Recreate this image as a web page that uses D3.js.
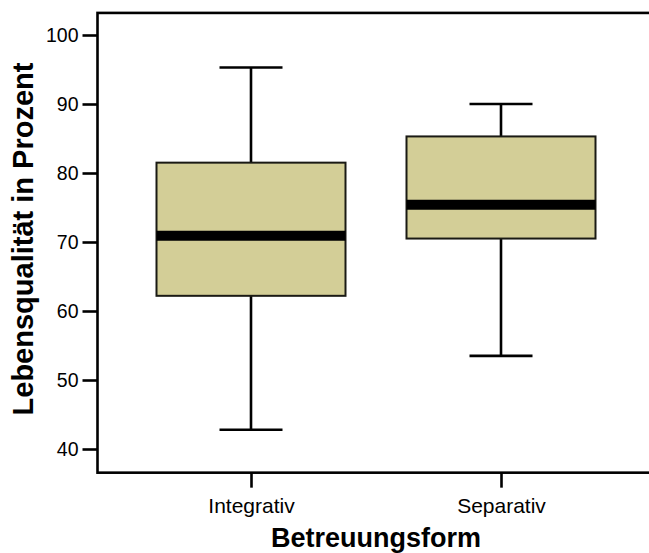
<!DOCTYPE html>
<html>
<head>
<meta charset="utf-8">
<script src="https://cdn.jsdelivr.net/npm/d3@7"></script>
<style>
  body { margin: 0; background: #fff; }
  svg { display: block; }
  text { font-family: Arial, "Liberation Sans", sans-serif; fill: #000; }
</style>
</head>
<body>
<div id="chart"></div>
<script>
var width = 649;
var height = 553;

// data
var groups = ["Integrativ", "Separativ"];
var whiskerLow = [42.8, 53.5];
var q1 = [62.2, 70.5];
var median = [70.9, 75.4];
var q3 = [81.5, 85.3];
var whiskerHigh = [95.3, 90.0];
var yTicks = [40, 50, 60, 70, 80, 90, 100];

var boxes = groups.map(function(g, i) {
  return { name: g, lo: whiskerLow[i], q1: q1[i], med: median[i], q3: q3[i], hi: whiskerHigh[i] };
});

var left = 97.5, right = 654.5;

var y = d3.scaleLinear()
  .domain([40, 100])
  .range([449, 35]);

var yMin = 36.57, yMax = 103.2;

var x = d3.scalePoint()
  .domain(groups)
  .range([left, right])
  .padding(0.614);

var boxW = x.step() * 0.756;
var capW = boxW / 3;

var svg = d3.select("#chart")
  .append("svg")
    .attr("width", width)
    .attr("height", height);

// frame
svg.append("rect")
  .attr("x", left)
  .attr("y", y(yMax))
  .attr("width", right - left)
  .attr("height", y(yMin) - y(yMax))
  .attr("fill", "none")
  .attr("stroke", "#000")
  .attr("stroke-width", 2.6);

// y axis
var yAxis = svg.append("g")
  .attr("transform", "translate(" + left + ",0)")
  .call(d3.axisLeft(y).tickValues(yTicks).tickSize(15).tickPadding(4).tickFormat(d3.format("d")));
yAxis.select(".domain").remove();
yAxis.selectAll(".tick line").attr("stroke", "#000").attr("stroke-width", 2.6);
yAxis.selectAll(".tick text")
  .style("font-size", "19.5px")
  .attr("font-family", null);

// x axis
var xAxis = svg.append("g")
  .attr("transform", "translate(0," + y(yMin) + ")")
  .call(d3.axisBottom(x).tickSize(15).tickPadding(10));
xAxis.select(".domain").remove();
xAxis.selectAll(".tick line").attr("stroke", "#000").attr("stroke-width", 2.6);
xAxis.selectAll(".tick text")
  .style("font-size", "21px")
  .attr("font-family", null);

// boxes
var g = svg.append("g")
  .selectAll("g")
  .data(boxes)
  .enter()
  .append("g");

// whiskers
g.append("line")
  .attr("x1", function(d) { return x(d.name); })
  .attr("x2", function(d) { return x(d.name); })
  .attr("y1", function(d) { return y(d.hi); })
  .attr("y2", function(d) { return y(d.lo); })
  .attr("stroke", "#000")
  .attr("stroke-width", 2.6);

g.selectAll(".cap")
  .data(function(d) { return [{ name: d.name, v: d.hi }, { name: d.name, v: d.lo }]; })
  .enter()
  .append("line")
    .attr("class", "cap")
    .attr("x1", function(d) { return x(d.name) - capW / 2; })
    .attr("x2", function(d) { return x(d.name) + capW / 2; })
    .attr("y1", function(d) { return y(d.v); })
    .attr("y2", function(d) { return y(d.v); })
    .attr("stroke", "#000")
    .attr("stroke-width", 2.6);

g.append("rect")
  .attr("x", function(d) { return x(d.name) - boxW / 2; })
  .attr("y", function(d) { return y(d.q3); })
  .attr("width", boxW)
  .attr("height", function(d) { return y(d.q1) - y(d.q3); })
  .attr("fill", "#d3ce97")
  .attr("stroke", "#1a1a14")
  .attr("stroke-width", 2);

g.append("line")
  .attr("x1", function(d) { return x(d.name) - boxW / 2; })
  .attr("x2", function(d) { return x(d.name) + boxW / 2; })
  .attr("y1", function(d) { return y(d.med); })
  .attr("y2", function(d) { return y(d.med); })
  .attr("stroke", "#000")
  .attr("stroke-width", 10);

// titles
svg.append("text")
  .attr("transform", "translate(33," + 239 + ") rotate(-90)")
  .attr("text-anchor", "middle")
  .style("font-size", "29px")
  .style("font-weight", "bold")
  .text("Lebensqualität in Prozent");

svg.append("text")
  .attr("x", (left + right) / 2)
  .attr("y", 547)
  .attr("text-anchor", "middle")
  .style("font-size", "27px")
  .style("font-weight", "bold")
  .text("Betreuungsform");
</script>
</body>
</html>
